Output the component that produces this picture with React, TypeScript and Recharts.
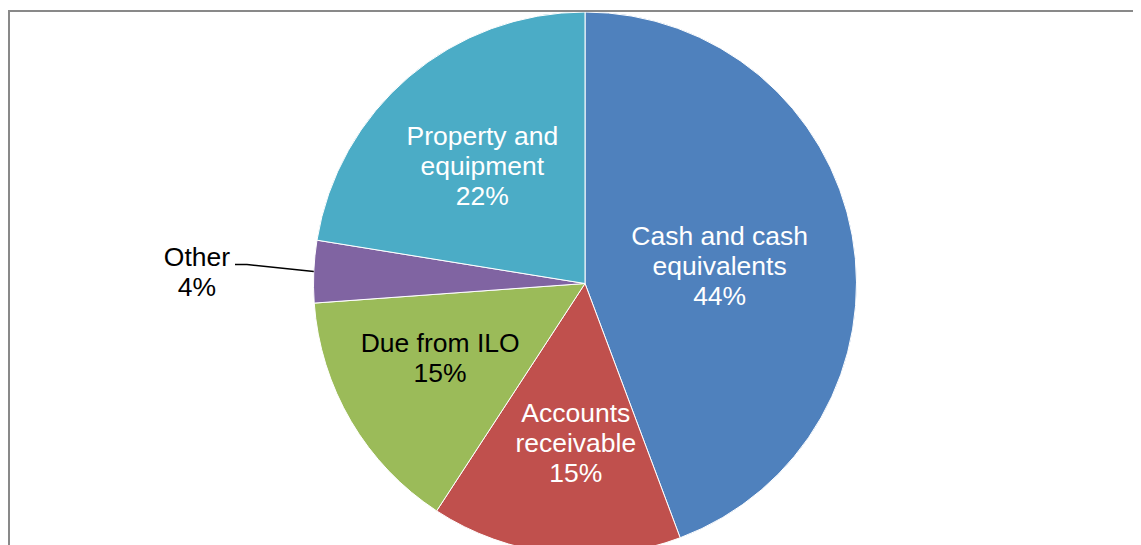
import React from 'react';
import { PieChart, Pie, Cell } from 'recharts';

const categories = [
  'Cash and cash equivalents',
  'Accounts receivable',
  'Due from ILO',
  'Other',
  'Property and equipment',
];
const shares = [44.3, 14.9, 14.65, 3.7, 22.45];
const labelLines = [
  ['Cash and cash', 'equivalents'],
  ['Accounts', 'receivable'],
  ['Due from ILO'],
  ['Other'],
  ['Property and', 'equipment'],
];
const colors = ['#4F81BD', '#C0504D', '#9BBB59', '#8064A2', '#4BACC6'];
const textColors = ['#ffffff', '#ffffff', '#000000', '#000000', '#ffffff'];

const data = categories.map((name, i) => ({ name, value: shares[i], lines: labelLines[i] }));

// label placement: clockwise angle tweak (deg) and radius fraction
const placement: Record<number, { dAngle: number; frac: number }> = {
  0: { dAngle: 2.9, frac: 0.5 },
  1: { dAngle: -3, frac: 0.59 },
  2: { dAngle: 3.3, frac: 0.6 },
  4: { dAngle: -0.9, frac: 0.573 },
};

const RAD = Math.PI / 180;
const FONT = '"Liberation Sans", Arial, sans-serif';
const FS = 25;
const LH = 30;
const SX = 1.06;

const Lines = ({ x, y, lines, fill }: { x: number; y: number; lines: string[]; fill: string }) => (
  <g>
    {lines.map((l, i) => (
      <text
        key={i}
        transform={`translate(${x},${y + (i - (lines.length - 1) / 2) * LH}) scale(${SX},1)`}
        x={0}
        y={0}
        textAnchor="middle"
        dominantBaseline="central"
        fill={fill}
        fontFamily={FONT}
        fontSize={FS}
      >
        {l}
      </text>
    ))}
  </g>
);

const renderLabel = (props: any) => {
  const { cx, cy, midAngle, outerRadius, index, percent } = props;
  const lines = [...labelLines[index], `${Math.round(percent * 100)}%`];
  const fill = textColors[index];
  if (index === 3) {
    const ex = cx + outerRadius * Math.cos(-midAngle * RAD);
    const ey = cy + outerRadius * Math.sin(-midAngle * RAD);
    const bx = cx - 338;
    const by = cy - 19;
    return (
      <g>
        <polyline
          points={`${ex},${ey} ${bx},${by} ${bx - 12},${by}`}
          fill="none"
          stroke="#000"
          strokeWidth={1.5}
        />
        <Lines x={cx - 388} y={cy - 11.5} lines={lines} fill={fill} />
      </g>
    );
  }
  const p = placement[index];
  const a = midAngle - p.dAngle;
  const r = outerRadius * p.frac;
  const x = cx + r * Math.cos(-a * RAD);
  const y = cy + r * Math.sin(-a * RAD);
  return <Lines x={x} y={y} lines={lines} fill={fill} />;
};

export default function App() {
  return (
    <div
      style={{
        marginTop: 2,
        width: 1131,
        height: 533,
        borderTop: '2px solid #898989',
        borderLeft: '2px solid #898989',
        background: '#fff',
      }}
    >
      <PieChart width={1131} height={533} margin={{ top: 0, right: 0, bottom: 0, left: 0 }}>
        <Pie
          data={data}
          dataKey="value"
          nameKey="name"
          cx={575}
          cy={271.5}
          outerRadius={271.5}
          startAngle={90}
          endAngle={-270}
          stroke="#ffffff"
          strokeWidth={1}
          label={renderLabel}
          labelLine={false}
          isAnimationActive={false}
        >
          {data.map((d, i) => (
            <Cell key={d.name} fill={colors[i]} />
          ))}
        </Pie>
      </PieChart>
    </div>
  );
}
